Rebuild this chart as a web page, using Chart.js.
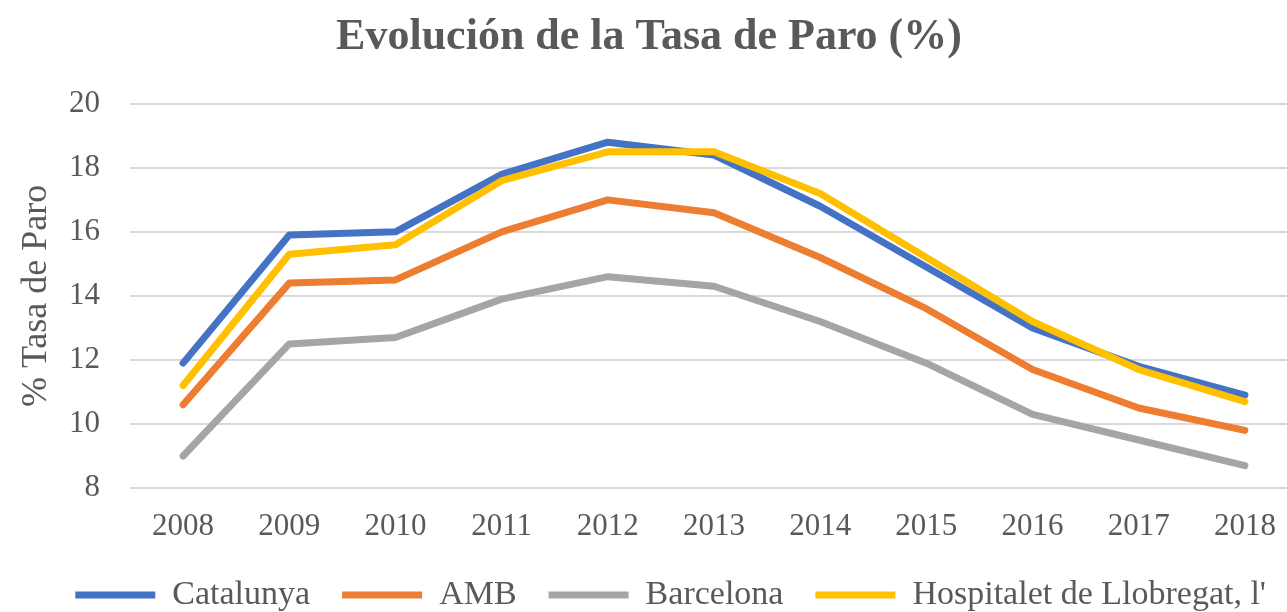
<!DOCTYPE html>
<html>
<head>
<meta charset="utf-8">
<script src="https://cdn.jsdelivr.net/npm/chart.js@4/dist/chart.umd.min.js"></script>
<style>
  html, body { margin: 0; padding: 0; background: #ffffff; overflow: hidden; }
  #wrap { width: 1300px; height: 622px; }
</style>
</head>
<body>
<div id="wrap"><canvas id="c" width="1300" height="622"></canvas></div>
<script>
const years = ['2008','2009','2010','2011','2012','2013','2014','2015','2016','2017','2018'];
const catalunya  = [11.9, 15.9, 16.0, 17.8, 18.8, 18.4, 16.8, 14.9, 13.0, 11.8, 10.9];
const amb        = [10.6, 14.4, 14.5, 16.0, 17.0, 16.6, 15.2, 13.6, 11.7, 10.5, 9.8];
const barcelona  = [9.0, 12.5, 12.7, 13.9, 14.6, 14.3, 13.2, 11.9, 10.3, 9.5, 8.7];
const hospitalet = [11.2, 15.3, 15.6, 17.6, 18.5, 18.5, 17.2, 15.2, 13.2, 11.7, 10.7];
const seriesNames = ['Catalunya', 'AMB', 'Barcelona', "Hospitalet de Llobregat, l'"];
const yTicks = [8, 10, 12, 14, 16, 18, 20];

const colors = ['#4472C4', '#ED7D31', '#A5A5A5', '#FFC000'];
const drawOrder = [3, 2, 1, 0];
const values = [catalunya, amb, barcelona, hospitalet];
const textColor = '#595959';
const serif = "'Liberation Serif', 'Times New Roman', serif";

const datasets = values.map((v, i) => ({
  label: seriesNames[i],
  data: v,
  borderColor: colors[i],
  backgroundColor: colors[i],
  borderWidth: 7,
  borderCapStyle: 'round',
  borderJoinStyle: 'round',
  pointRadius: 0,
  pointHoverRadius: 0,
  pointStyle: 'line',
  tension: 0,
  fill: false,
  order: drawOrder[i]
}));

new Chart(document.getElementById('c'), {
  type: 'line',
  data: { labels: years, datasets },
  options: {
    responsive: false,
    animation: false,
    events: [],
    layout: { padding: { left: 0, right: 2, top: 0, bottom: 0 } },
    plugins: {
      title: {
        display: true,
        text: 'Evolución de la Tasa de Paro (%)',
        color: textColor,
        font: { family: serif, size: 44, weight: 'bold' },
        padding: { top: 11, bottom: 40 }
      },
      legend: {
        position: 'bottom',
        align: 'end',
        labels: {
          usePointStyle: true,
          pointStyleWidth: 80,
          color: textColor,
          font: { family: serif, size: 34 },
          padding: 32,
          sort: (a, b) => a.datasetIndex - b.datasetIndex
        }
      },
      tooltip: { enabled: false }
    },
    scales: {
      x: {
        offset: true,
        grid: { display: false, drawTicks: false },
        border: { display: false },
        ticks: { color: textColor, font: { family: serif, size: 31 }, padding: 20, maxRotation: 0 },
        afterFit: (s) => { s.height = 58; }
      },
      y: {
        min: 8, max: 20,
        afterBuildTicks: (s) => { s.ticks = yTicks.map(v => ({ value: v })); },
        grid: { color: '#D9D9D9', lineWidth: 2, drawTicks: false },
        border: { display: false },
        ticks: { color: textColor, font: { family: serif, size: 31 }, padding: 30 },
        title: {
          display: true,
          text: '% Tasa de Paro',
          color: textColor,
          font: { family: serif, size: 36 },
          padding: { top: 15, bottom: 0 }
        },
        afterFit: (s) => { s.width = 130; }
      }
    }
  }
});
</script>
</body>
</html>
